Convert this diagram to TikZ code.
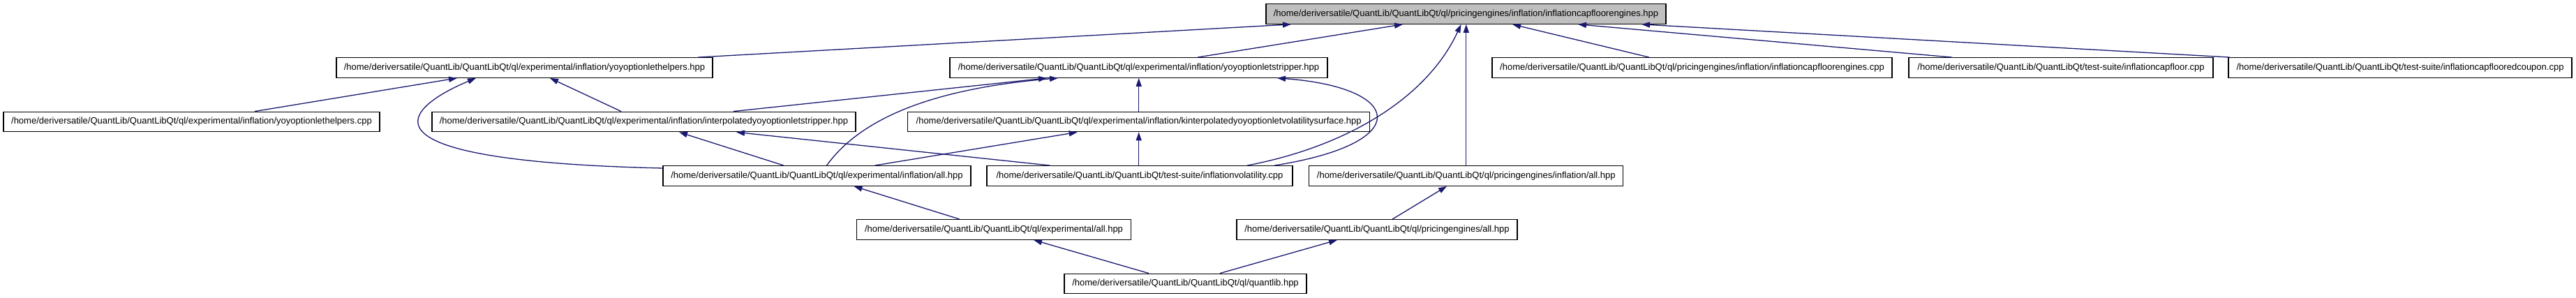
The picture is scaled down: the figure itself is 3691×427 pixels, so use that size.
\documentclass[tikz,border=0pt]{standalone}
\usepackage{fontspec}
\setmainfont{Liberation Sans}
\usetikzlibrary{arrows.meta}
\definecolor{midnightblue}{HTML}{191970}
\definecolor{rootgrey}{HTML}{BFBFBF}
\tikzset{
  file/.style={draw=black, line width=1.3pt, fill=white, minimum height=28.5pt,
    inner xsep=3pt, inner ysep=0pt, font=\fontsize{13}{15}\selectfont,
    text height=9.5pt, text depth=2.7pt},
  dep/.style={draw=midnightblue, line width=1.3pt,
    -{Triangle[length=12pt,width=8pt,fill=midnightblue]}}
}
\begin{document}
\begin{tikzpicture}[x=1pt,y=-1pt]
\useasboundingbox (0,0) rectangle (3691,427);
% row 1
\node[file, fill=rootgrey, minimum width=573pt] (R) at (2100.5,20) {/home/deriversatile/QuantLib/QuantLibQt/ql/pricingengines/inflation/inflationcapfloorengines.hpp};
% row 2
\node[file, minimum width=539pt] (H) at (751.5,97) {/home/deriversatile/QuantLib/QuantLibQt/ql/experimental/inflation/yoyoptionlethelpers.hpp};
\node[file, minimum width=541pt] (S) at (1631.5,97) {/home/deriversatile/QuantLib/QuantLibQt/ql/experimental/inflation/yoyoptionletstripper.hpp};
\node[file, minimum width=573pt] (E) at (2424.5,97) {/home/deriversatile/QuantLib/QuantLibQt/ql/pricingengines/inflation/inflationcapfloorengines.cpp};
\node[file, minimum width=436pt] (F) at (2953,97) {/home/deriversatile/QuantLib/QuantLibQt/test-suite/inflationcapfloor.cpp};
\node[file, minimum width=492pt] (C) at (3439,97) {/home/deriversatile/QuantLib/QuantLibQt/test-suite/inflationcapflooredcoupon.cpp};
% row 3
\node[file, minimum width=539pt] (HC) at (274.5,174.5) {/home/deriversatile/QuantLib/QuantLibQt/ql/experimental/inflation/yoyoptionlethelpers.cpp};
\node[file, minimum width=607pt] (IS) at (922.5,174.5) {/home/deriversatile/QuantLib/QuantLibQt/ql/experimental/inflation/interpolatedyoyoptionletstripper.hpp};
\node[file, minimum width=662pt] (K) at (1631.7,174.5) {/home/deriversatile/QuantLib/QuantLibQt/ql/experimental/inflation/kinterpolatedyoyoptionletvolatilitysurface.hpp};
% row 4
\node[file, minimum width=441pt] (EIA) at (1170.5,252) {/home/deriversatile/QuantLib/QuantLibQt/ql/experimental/inflation/all.hpp};
\node[file, minimum width=438pt] (V) at (1633,252) {/home/deriversatile/QuantLib/QuantLibQt/test-suite/inflationvolatility.cpp};
\node[file, minimum width=450pt] (PIA) at (2100.8,252) {/home/deriversatile/QuantLib/QuantLibQt/ql/pricingengines/inflation/all.hpp};
% row 5
\node[file, minimum width=393pt] (EA) at (1424,329) {/home/deriversatile/QuantLib/QuantLibQt/ql/experimental/all.hpp};
\node[file, minimum width=402pt] (PA) at (1973,329) {/home/deriversatile/QuantLib/QuantLibQt/ql/pricingengines/all.hpp};
% row 6
\node[file, minimum width=347pt] (Q) at (1698.5,406.5) {/home/deriversatile/QuantLib/QuantLibQt/ql/quantlib.hpp};

% edges to root
\draw[dep] ([xshift=248.5pt]H.north) -- ([xshift=-250.5pt]R.south);
\draw[dep] ([xshift=84.5pt]S.north) -- ([xshift=-90.5pt]R.south);
\draw[dep] ([xshift=154pt]V.north) .. controls (1930,210) and (2045,140) .. ([xshift=-7pt]R.south);
\draw[dep] (PIA.north) -- (PIA.north |- R.south);
\draw[dep] ([xshift=-61.5pt]E.north) -- ([xshift=66.5pt]R.south);
\draw[dep] ([xshift=-156pt]F.north) -- ([xshift=160.5pt]R.south);
\draw[dep] ([xshift=-244pt]C.north) -- ([xshift=251.5pt]R.south);
% edges to yoyoptionlethelpers.hpp
\draw[dep] ([xshift=90.5pt]HC.north) -- ([xshift=-96.5pt]H.south);
\draw[dep] ([xshift=-32.5pt]IS.north) -- ([xshift=36.5pt]H.south);
\draw[dep] ([yshift=11pt]EIA.west) .. controls (480,230) and (590,150) .. ([xshift=-69.5pt]H.south);
% edges to yoyoptionletstripper.hpp
\draw[dep] ([xshift=128.5pt]IS.north) -- ([xshift=-131.5pt]S.south);
\draw[dep] ([xshift=14pt]EIA.north) .. controls (1240,160) and (1360,125) .. ([xshift=-115.5pt]S.south);
\draw[dep] (K.north) -- (K.north |- S.south);
\draw[dep] ([xshift=193pt]V.north) .. controls (2030,205) and (2010,125) .. ([xshift=198.5pt]S.south);
% edges to interpolatedyoyoptionletstripper.hpp
\draw[dep] ([xshift=-47.5pt]EIA.north) -- ([xshift=50.5pt]IS.south);
\draw[dep] ([xshift=-128.5pt]V.north) -- ([xshift=132.5pt]IS.south);
% edges to kinterpolated surface
\draw[dep] ([xshift=83pt]EIA.north) -- ([xshift=-88pt]K.south);
\draw[dep] (V.north -| K.south) -- (K.south);
% lower levels
\draw[dep] ([xshift=-49pt]EA.north) -- ([xshift=53pt]EIA.south);
\draw[dep] ([xshift=22pt]PA.north) -- ([xshift=-27.8pt]PIA.south);
\draw[dep] ([xshift=-52.5pt]Q.north) -- ([xshift=57pt]EA.south);
\draw[dep] ([xshift=49.5pt]Q.north) -- ([xshift=-57pt]PA.south);
\end{tikzpicture}
\end{document}
